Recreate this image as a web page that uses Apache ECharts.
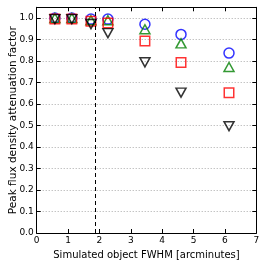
<!DOCTYPE html>
<html><head><meta charset="utf-8">
<script src="https://cdn.jsdelivr.net/npm/echarts@6/dist/echarts.min.js"></script>
<style>html,body{margin:0;padding:0;background:#fff}#c{width:266px;height:266px}</style>
</head><body><div id="c"></div>
<script>
const fwhm = [0.58, 1.12, 1.73, 2.27, 3.45, 4.6, 6.13];
const circles = [1.0, 1.0, 0.995, 0.995, 0.971, 0.924, 0.837];
const triangles = [1.0, 1.0, 0.99, 0.99, 0.948, 0.882, 0.772];
const squares = [0.995, 0.995, 0.985, 0.977, 0.893, 0.793, 0.652];
const downTriangles = [0.995, 0.995, 0.972, 0.93, 0.794, 0.653, 0.497];
const dashedX = 1.87;
const xTicks = [0,1,2,3,4,5,6,7];

const font = 'DejaVu Sans';
function ser(name, vals, sym, col, rot, size) {
  return {
    name, type: 'scatter', data: fwhm.map((x,i)=>[x, vals[i]]),
    symbol: sym, symbolSize: size, symbolRotate: rot,
    itemStyle: {color: 'rgba(0,0,0,0)', borderColor: col, borderWidth: 1.5},
    z: 3
  };
}
const chart = echarts.init(document.getElementById('c'), null, {renderer:'canvas'});
chart.setOption({
  animation: false,
  grid: {left: 36.7, right: 9.7, top: 7.3, bottom: 33, outerBoundsMode: 'none', containLabel: false},
  xAxis: [{
    type: 'value', min: 0, max: 7, interval: 1,
    name: 'Simulated object FWHM [arcminutes]', nameLocation: 'middle', nameGap: 17, nameMoveOverlap: false,
    nameTextStyle: {fontFamily: font, fontSize: 10, color: '#000'},
    axisLine: {show: true, onZero: false, lineStyle: {color: '#000', width: 1}},
    axisTick: {show: true, inside: true, length: 4, lineStyle: {color: '#000'}},
    axisLabel: {fontFamily: font, fontSize: 9, color: '#000', margin: 3},
    splitLine: {show: false}
  }, {
    type: 'value', min: 0, max: 7, interval: 1, position: 'top',
    axisLine: {show: true, onZero: false, lineStyle: {color: '#000', width: 1}},
    axisTick: {show: true, inside: true, length: 4, lineStyle: {color: '#000'}},
    axisLabel: {show: false}, splitLine: {show: false}
  }],
  yAxis: [{
    type: 'value', min: 0, max: 1.05, interval: 0.1,
    name: 'Peak flux density attenuation factor', nameLocation: 'middle', nameGap: 18, nameMoveOverlap: false,
    nameTextStyle: {fontFamily: font, fontSize: 10.5, color: '#000'},
    axisLine: {show: true, onZero: false, lineStyle: {color: '#000', width: 1}},
    axisTick: {show: true, inside: true, length: 4, lineStyle: {color: '#000'}},
    axisLabel: {fontFamily: font, fontSize: 9, color: '#000', margin: 3, showMaxLabel: false,
      formatter: v => v.toFixed(1)},
    splitLine: {show: true, lineStyle: {color: '#aaa', type: [1,2], width: 1}}
  }, {
    type: 'value', min: 0, max: 1.05, interval: 0.1, position: 'right',
    axisLine: {show: true, onZero: false, lineStyle: {color: '#000', width: 1}},
    axisTick: {show: true, inside: true, length: 4, lineStyle: {color: '#000'}},
    axisLabel: {show: false}, splitLine: {show: false}
  }],
  series: [
    ser('circles', circles, 'circle', '#0000ff', 0, 10),
    ser('triangles', triangles, 'triangle', '#008000', 0, [10, 9]),
    ser('squares', squares, 'rect', '#ff0000', 0, 9.5),
    ser('down', downTriangles, 'triangle', '#000000', 180, [10, 9]),
    {
      type: 'line', data: [], silent: true,
      markLine: {symbol: 'none', silent: true, label: {show: false},
        lineStyle: {color: '#000', type: [4,3], width: 1},
        data: [{xAxis: dashedX}]}
    }
  ]
});
</script></body></html>
